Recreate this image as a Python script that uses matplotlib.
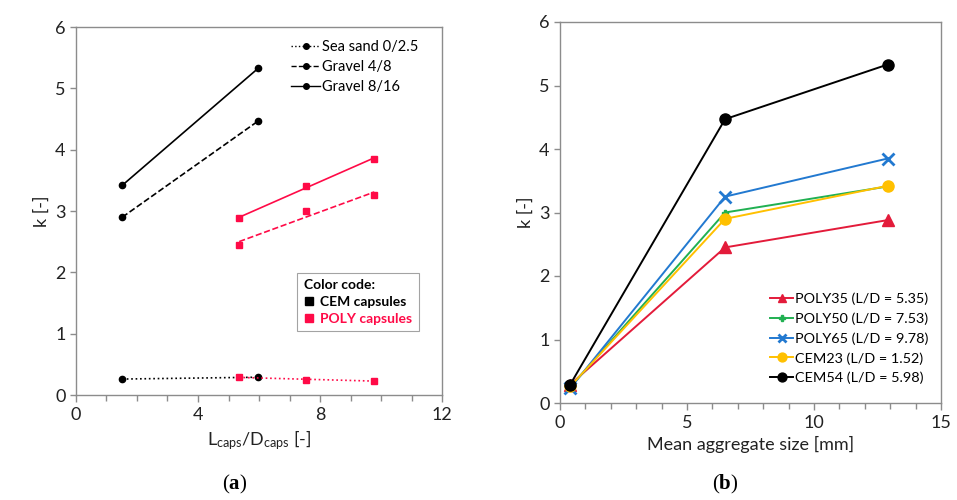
import numpy as np
import matplotlib
matplotlib.use('Agg')
import matplotlib.pyplot as plt
from matplotlib.lines import Line2D
from matplotlib.ticker import MultipleLocator

plt.rcParams['font.family'] = ['Lato', 'DejaVu Sans']
plt.rcParams['mathtext.fontset'] = 'custom'
plt.rcParams['mathtext.rm'] = 'Lato'
plt.rcParams['mathtext.it'] = 'Lato:italic'
plt.rcParams['mathtext.bf'] = 'Liberation Serif:bold'

# ---- data, panel (a): k vs L/D per aggregate type ----
ld_cem = [1.52, 5.98]
ld_poly = [5.35, 7.53, 9.78]
k_cem_sand = [0.26, 0.29]
k_cem_g48 = [2.90, 4.47]
k_cem_g816 = [3.42, 5.33]
k_poly_sand = [0.29, 0.25, 0.23]
k_poly_g48 = [2.45, 3.00, 3.26]
k_poly_g816 = [2.88, 3.41, 3.85]
agg_names = ['Sea sand 0/2.5', 'Gravel 4/8', 'Gravel 8/16']

# ---- data, panel (b): k vs mean aggregate size per capsule type ----
agg_size = [0.4, 6.5, 12.9]
series_names = ['POLY35 (L/D = 5.35)', 'POLY50 (L/D = 7.53)', 'POLY65 (L/D = 9.78)',
                'CEM23 (L/D = 1.52)', 'CEM54 (L/D = 5.98)']
k_poly35 = [0.29, 2.45, 2.88]
k_poly50 = [0.25, 3.00, 3.41]
k_poly65 = [0.23, 3.25, 3.85]
k_cem23 = [0.26, 2.90, 3.42]
k_cem54 = [0.29, 4.47, 5.33]

red_a = '#ff0a47'
grey = '#8c8c8c'

fig = plt.figure(figsize=(9.57, 5), dpi=100)
ax1 = fig.add_axes([0.0794, 0.21, 0.3825, 0.736])
ax2 = fig.add_axes([0.5852, 0.194, 0.398, 0.762])


def style_axes(ax):
    for s in ax.spines.values():
        s.set_color(grey)
        s.set_linewidth(1.0)
    ax.tick_params(axis='both', which='both', direction='out', color=grey,
                   labelsize=13, length=4, width=1, labelcolor='#222222')
    ax.tick_params(axis='x', which='minor', length=4)
    ax.tick_params(axis='x', which='major', length=5)


# panel (a): straight fitted lines through the measured points
styles = [':', '--', '-']
for data, ls in zip([k_cem_sand, k_cem_g48, k_cem_g816], styles):
    p = np.polyfit(ld_cem, data, 1)
    xs = np.array([ld_cem[0], ld_cem[-1]])
    ax1.plot(xs, np.polyval(p, xs), ls=ls, color='black', lw=1.2)
    ax1.plot(ld_cem, data, 'o', color='black', ms=4.5)
for data, ls in zip([k_poly_sand, k_poly_g48, k_poly_g816], styles):
    p = np.polyfit(ld_poly, data, 1)
    xs = np.array([ld_poly[0], ld_poly[-1]])
    ax1.plot(xs, np.polyval(p, xs), ls=ls, color=red_a, lw=1.2)
    ax1.plot(ld_poly, data, 's', color=red_a, ms=4.5)

ax1.set_xlim(0, 12)
ax1.set_ylim(0, 6)
ax1.xaxis.set_major_locator(MultipleLocator(4))
ax1.xaxis.set_minor_locator(MultipleLocator(1))
ax1.yaxis.set_major_locator(MultipleLocator(1))
style_axes(ax1)
ax1.set_ylabel('k [-]', fontsize=13, color='#222222')
ax1.set_xlabel(r'L$_{\mathrm{caps}}$/D$_{\mathrm{caps}}$ [-]', fontsize=13, color='#222222')

handles = [Line2D([], [], color='black', ls=ls, lw=1, marker='o', ms=4) for ls in styles]
leg1 = ax1.legend(handles, agg_names, loc='upper right', frameon=False, fontsize=10.5,
                  handlelength=2.0, handletextpad=0.1, labelspacing=0.4,
                  bbox_to_anchor=(0.97, 1.0))
ax1.add_artist(leg1)

code_handles = [Line2D([], [], ls='none', marker='s', color='black', ms=6),
                Line2D([], [], ls='none', marker='s', color=red_a, ms=6)]
leg2 = ax1.legend(code_handles, ['CEM capsules', 'POLY capsules'], title='Color code:',
                  loc='lower right', bbox_to_anchor=(0.955, 0.155), fontsize=10,
                  title_fontproperties={'weight': 'bold', 'size': 10},
                  handlelength=0.8, handletextpad=0.4, fancybox=False,
                  edgecolor=grey, borderpad=0.45, labelspacing=0.35)
leg2._legend_box.align = 'left'
leg2.get_frame().set_linewidth(0.8)
for t, c in zip(leg2.get_texts(), ['black', red_a]):
    t.set_color(c)
    t.set_fontweight('bold')

# panel (b)
colors_b = ['#e31b3a', '#21b052', '#2279d0', '#ffc000', 'black']
markers_b = ['^', 'P', 'x', 'o', 'o']
msizes = [8, 5, 8, 8, 8]
series_b = [k_poly35, k_poly50, k_poly65, k_cem23, k_cem54]
for name, ys, c, m, ms in zip(series_names, series_b, colors_b, markers_b, msizes):
    ax2.plot(agg_size, ys, color=c, marker=m, ms=ms, lw=1.4, mew=2 if m == 'x' else 1,
             label=name)

ax2.set_xlim(0, 15)
ax2.set_ylim(0, 6)
ax2.xaxis.set_major_locator(MultipleLocator(5))
ax2.xaxis.set_minor_locator(MultipleLocator(1))
ax2.yaxis.set_major_locator(MultipleLocator(1))
style_axes(ax2)
ax2.set_ylabel('k [-]', fontsize=13, color='#222222')
ax2.set_xlabel('Mean aggregate size [mm]', fontsize=13, color='#222222')
ax2.legend(loc='lower right', frameon=False, fontsize=10.4, handlelength=1.6,
           handletextpad=0.1, labelspacing=0.5, bbox_to_anchor=(1.0, 0.015),
           markerscale=0.8)

fig.text(0.245, 0.022, r'($\mathbf{a}$)', fontsize=15, family='Liberation Serif', ha='center')
fig.text(0.758, 0.022, r'($\mathbf{b}$)', fontsize=15, family='Liberation Serif', ha='center')

fig.savefig('out.png', dpi=100)
